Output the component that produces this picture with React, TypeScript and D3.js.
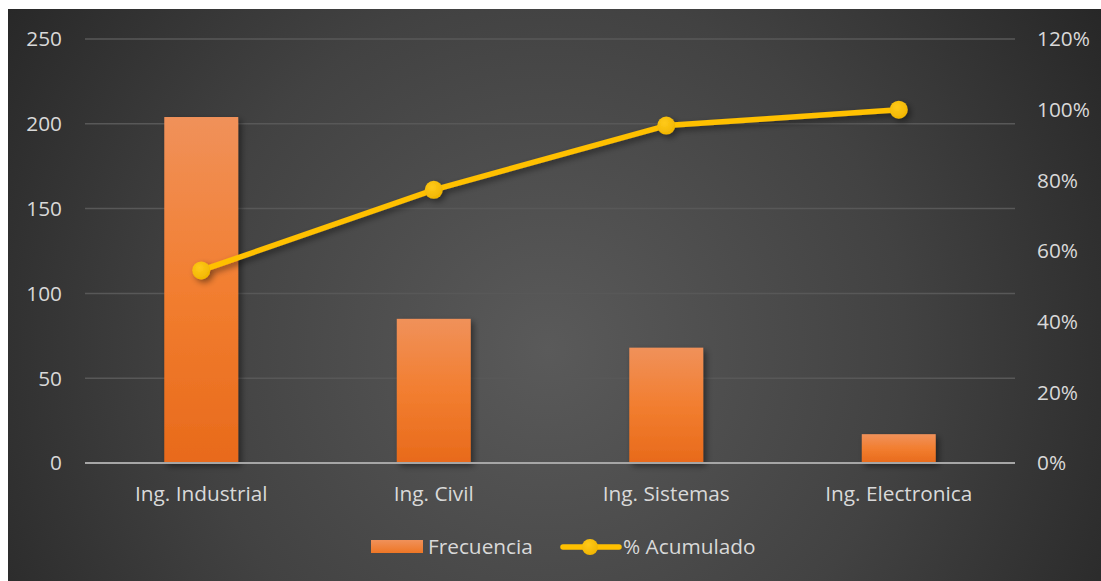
import React from "react";
import * as d3 from "d3";

const categories = ["Ing. Industrial", "Ing. Civil", "Ing. Sistemas", "Ing. Electronica"];
const frecuencia = [204, 85, 68, 17];
const acumulado = [54.5, 77.3, 95.5, 100];
const leftTicks = [0, 50, 100, 150, 200, 250];
const rightTicks = [0, 20, 40, 60, 80, 100, 120];
const legendLabels = ["Frecuencia", "% Acumulado"];

const W = 1093;
const H = 572;
const OX = 8;
const OY = 9;
const plotLeft = 85 - OX;
const plotRight = 1015 - OX;
const plotTop = 39 - OY;
const plotBottom = 463 - OY;
const FONT = "'Open Sans', sans-serif";
const FS = 20.8;

export default function App() {
  const x = d3.scaleBand<string>().domain(categories).range([plotLeft, plotRight]).padding(0);
  const yL = d3.scaleLinear().domain([0, 250]).range([plotBottom, plotTop]);
  const yR = d3.scaleLinear().domain([0, 120]).range([plotBottom, plotTop]);
  const barW = x.bandwidth() * 0.318;
  const cx = (c: string) => (x(c) as number) + x.bandwidth() / 2;
  const line = d3
    .line<number>()
    .x((_, i) => cx(categories[i]))
    .y((d) => yR(d));

  return (
    <svg
      width={W}
      height={H}
      style={{ position: "absolute", left: OX, top: OY, display: "block" }}
      fontFamily={FONT}
    >
      <defs>
        <radialGradient id="bg" gradientUnits="userSpaceOnUse" cx={540} cy={340} r={650}>
          <stop offset="0" stopColor="#5a5a5a" />
          <stop offset="0.55" stopColor="#424242" />
          <stop offset="1" stopColor="#272727" />
        </radialGradient>
        <linearGradient id="barG" x1="0" y1="0" x2="0" y2="1">
          <stop offset="0" stopColor="#F0915A" />
          <stop offset="0.5" stopColor="#F27E30" />
          <stop offset="1" stopColor="#E86A1B" />
        </linearGradient>
        <linearGradient id="legG" x1="0" y1="0" x2="0" y2="1">
          <stop offset="0" stopColor="#F0915A" />
          <stop offset="1" stopColor="#EE7625" />
        </linearGradient>
        <radialGradient id="mk" cx="0.4" cy="0.35" r="0.7">
          <stop offset="0" stopColor="#FFCA1A" />
          <stop offset="1" stopColor="#F0B400" />
        </radialGradient>
        <filter id="sh" x="-20%" y="-20%" width="150%" height="150%">
          <feDropShadow dx="3" dy="3" stdDeviation="3" floodColor="#000" floodOpacity="0.45" />
        </filter>
      </defs>
      <rect x={0} y={0} width={W} height={H} fill="url(#bg)" />

      {leftTicks.slice(1).map((t) => (
        <line key={t} x1={plotLeft} x2={plotRight} y1={yL(t)} y2={yL(t)} stroke="#585858" strokeWidth={1.5} />
      ))}

      {categories.map((c, i) => (
        <rect
          key={c}
          x={cx(c) - barW / 2}
          y={yL(frecuencia[i])}
          width={barW}
          height={plotBottom - yL(frecuencia[i])}
          fill="url(#barG)"
          filter="url(#sh)"
        />
      ))}

      <line x1={plotLeft} x2={plotRight} y1={plotBottom} y2={plotBottom} stroke="#A6A6A6" strokeWidth={2} />

      <g filter="url(#sh)">
        <path d={line(acumulado) as string} fill="none" stroke="#FFC000" strokeWidth={5.5} strokeLinejoin="round" />
        {acumulado.map((v, i) => (
          <circle key={i} cx={cx(categories[i])} cy={yR(v)} r={9} fill="url(#mk)" />
        ))}
      </g>

      {leftTicks.map((t) => (
        <text key={t} x={62 - OX} y={yL(t)} dy="0.36em" textAnchor="end" fontSize={FS} fill="#D9D9D9">
          {t}
        </text>
      ))}
      {rightTicks.map((t) => (
        <text key={t} x={1037 - OX} y={yR(t)} dy="0.36em" textAnchor="start" fontSize={FS} fill="#D9D9D9">
          {t + "%"}
        </text>
      ))}
      {categories.map((c) => (
        <text key={c} x={cx(c)} y={501 - OY} textAnchor="middle" fontSize={FS} fill="#D9D9D9">
          {c}
        </text>
      ))}

      <g>
        <rect x={371 - OX} y={540 - OY} width={52} height={13} fill="url(#legG)" />
        <text x={428 - OX} y={554 - OY} fontSize={FS} fill="#D9D9D9">
          {legendLabels[0]}
        </text>
        <line x1={563 - OX} x2={619 - OX} y1={547 - OY} y2={547 - OY} stroke="#FFC000" strokeWidth={5.5} strokeLinecap="round" />
        <circle cx={590 - OX} cy={547 - OY} r={8} fill="url(#mk)" />
        <text x={623 - OX} y={554 - OY} fontSize={FS} fill="#D9D9D9">
          {legendLabels[1]}
        </text>
      </g>
    </svg>
  );
}
